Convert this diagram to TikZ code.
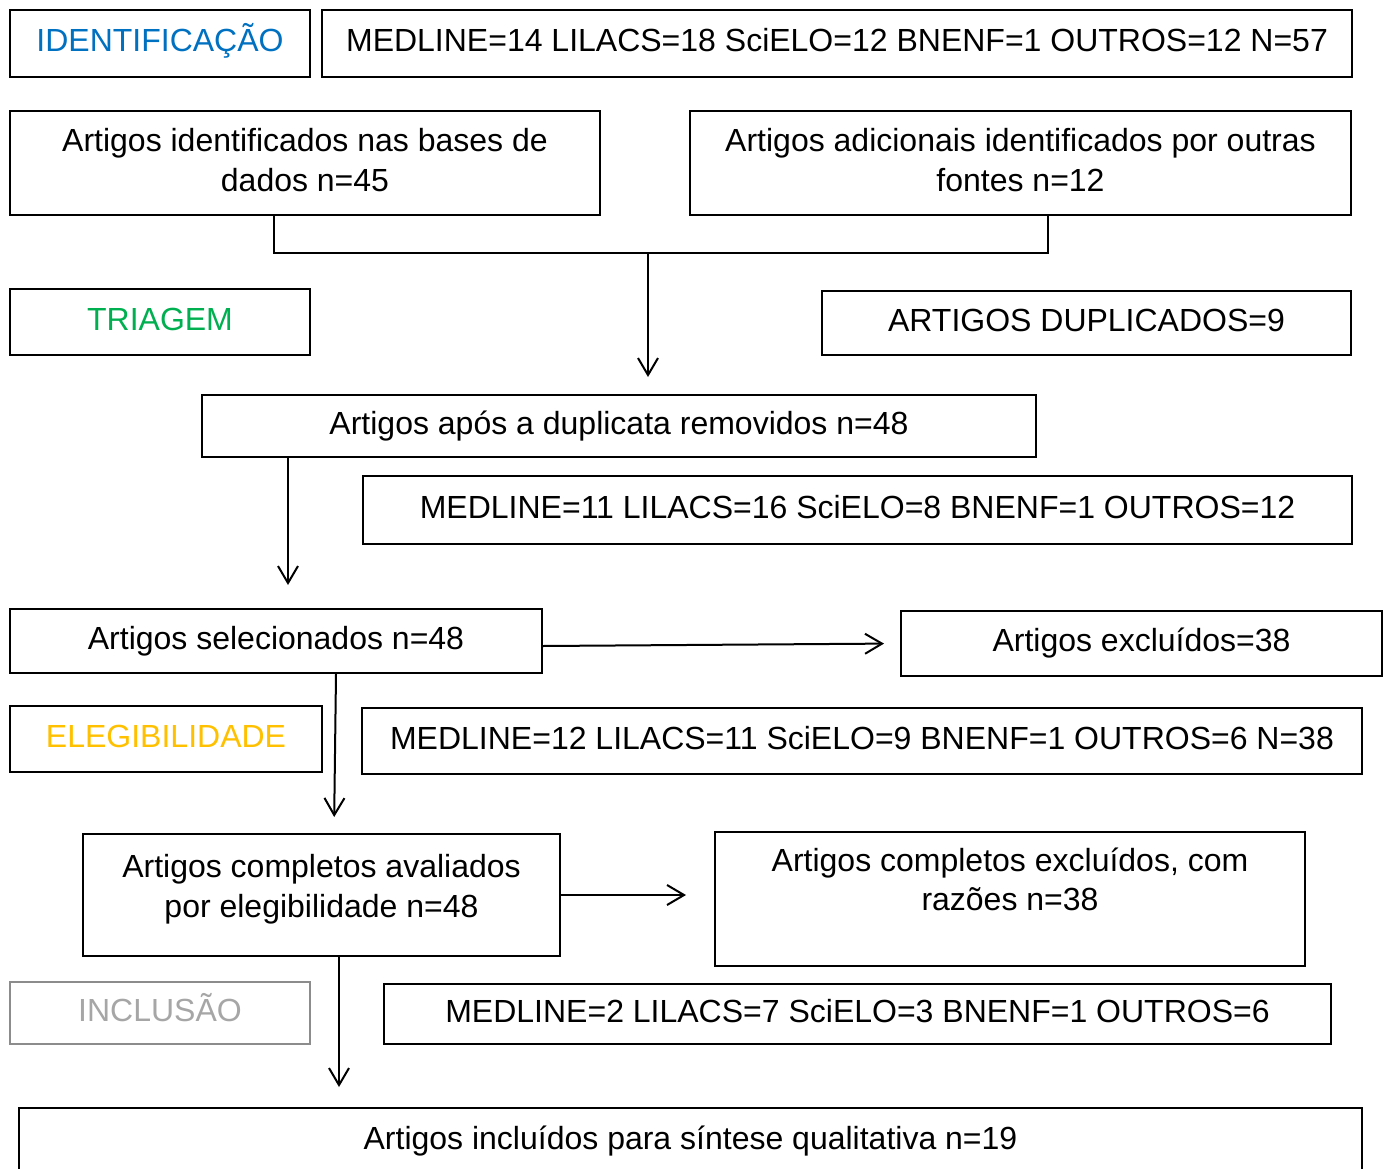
\documentclass[tikz,border=0pt]{standalone}
\usepackage{fontspec}
\setmainfont{Liberation Sans}
\usepackage{xcolor}
\usepackage{tikz}
\usetikzlibrary{arrows.meta, positioning}

\definecolor{azul}{HTML}{0070C0}
\definecolor{verde}{HTML}{00B050}
\definecolor{amarelo}{HTML}{FFC000}
\definecolor{cinza}{HTML}{A6A6A6}
\definecolor{cinzaborda}{HTML}{8C8C8C}

\begin{document}
\begin{tikzpicture}[
        x=1pt, y=-1pt,
        box/.style={rectangle, draw, line width=2pt, inner sep=0pt, anchor=north west,
            align=center, font=\fontsize{32}{39.5}\selectfont},
        linebox/.style={box, text height=23pt, text depth=7pt},
        arrow/.style={-{Straight Barb[length=17pt, width=20pt, line width=2pt]}, line width=2pt},
        line/.style={line width=2pt}
        ]
        \useasboundingbox (0,0) rectangle (1386,1169);
        \clip (0,0) rectangle (1386,1169);

        % identificacao
        \node[linebox, minimum width=300pt, minimum height=67pt, text=azul] (ident) at (9,9) {IDENTIFICAÇÃO};
        \node[linebox, minimum width=1030pt, minimum height=67pt] (fontes1) at (321,9) {MEDLINE=14 LILACS=18 SciELO=12 BNENF=1 OUTROS=12 N=57};
        \node[box, minimum width=590pt, minimum height=104pt] (bases) at (9,110) {Artigos identificados nas bases de\\dados n=45\\[-33pt]\mbox{}};
        \node[box, minimum width=661pt, minimum height=104pt] (adicionais) at (689,110) {Artigos adicionais identificados por outras\\fontes n=12\\[-33pt]\mbox{}};

        % triagem
        \node[linebox, minimum width=300pt, minimum height=66pt, text=verde] (triagem) at (9,288) {TRIAGEM};
        \node[linebox, minimum width=529pt, minimum height=64pt] (duplicados) at (821,290) {ARTIGOS DUPLICADOS=9};
        \node[linebox, minimum width=834pt, minimum height=62pt] (removidos) at (201,394) {Artigos após a duplicata removidos n=48};
        \node[linebox, minimum width=989pt, minimum height=68pt] (fontes2) at (362,475) {MEDLINE=11 LILACS=16 SciELO=8 BNENF=1 OUTROS=12};
        \node[linebox, minimum width=532pt, minimum height=64pt] (selecionados) at (9,608) {Artigos selecionados n=48};
        \node[linebox, minimum width=481pt, minimum height=65pt] (excluidos) at (900,610) {Artigos excluídos=38};

        % elegibilidade
        \node[linebox, minimum width=312pt, minimum height=66pt, text=amarelo] (elegib) at (9,705) {ELEGIBILIDADE};
        \node[linebox, minimum width=1000pt, minimum height=66pt] (fontes3) at (361,707) {MEDLINE=12 LILACS=11 SciELO=9 BNENF=1 OUTROS=6 N=38};
        \node[box, minimum width=477pt, minimum height=122pt] (avaliados) at (82,833) {Artigos completos avaliados\\por elegibilidade n=48\\[-21pt]\mbox{}};
        \node[box, minimum width=590pt, minimum height=134pt] (razoes) at (714,831) {Artigos completos excluídos, com\\razões n=38\\\mbox{}};

        % inclusao
        \node[linebox, minimum width=300pt, minimum height=62pt, draw=cinzaborda, text=cinza] (inclusao) at (9,981) {INCLUSÃO};
        \node[linebox, minimum width=947pt, minimum height=60pt] (fontes4) at (383,983) {MEDLINE=2 LILACS=7 SciELO=3 BNENF=1 OUTROS=6};
        \node[box, minimum width=1343pt, text height=41pt, text depth=100pt] (incluidos) at (18,1107) {Artigos incluídos para síntese qualitativa n=19};

        % conectores
        \coordinate (juncao) at (648,253);
        \draw[line] ([xshift=-31pt]bases.south) |- (juncao) -| ([xshift=27.5pt]adicionais.south);
        \draw[arrow, shorten >=17pt] (juncao) -- (juncao |- removidos.north);
        \draw[arrow, shorten >=23pt] ([xshift=-331pt]removidos.south) -- ([xshift=12pt]selecionados.north);
        \draw[arrow, shorten >=16pt] ([yshift=-5pt]selecionados.east) -- (excluidos.west);
        \draw[arrow, shorten >=16pt] ([xshift=60pt]selecionados.south) -- ([xshift=12.5pt]avaliados.north);
        \draw[arrow, shorten >=28pt] (avaliados.east) -- ([yshift=4pt]razoes.west);
        \draw[arrow, shorten >=20pt] ([xshift=17.5pt]avaliados.south) -- ([xshift=-351.5pt]incluidos.north);

    \end{tikzpicture}
\end{document}
